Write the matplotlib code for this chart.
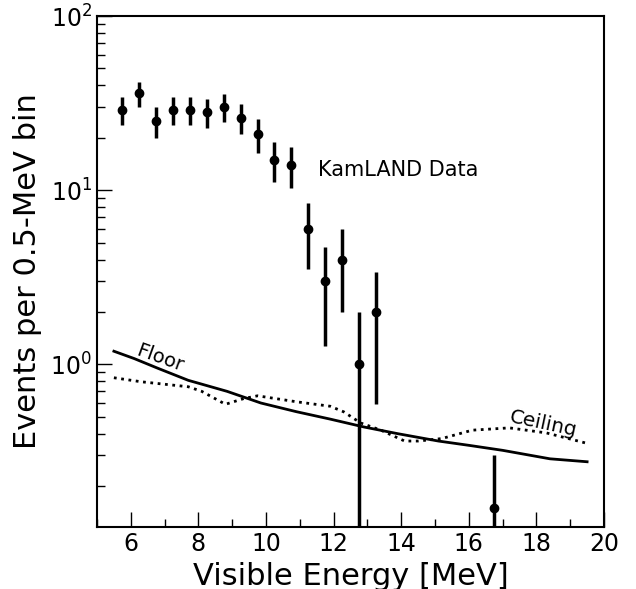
import numpy as np
import matplotlib
matplotlib.use("Agg")
import matplotlib.pyplot as plt

# KamLAND data points (bin centres, counts, errors)
e_data = [5.75, 6.25, 6.75, 7.25, 7.75, 8.25, 8.75, 9.25, 9.75, 10.25,
          10.75, 11.25, 11.75, 12.25, 12.75, 13.25, 16.75]
n_data = [29, 36, 25, 29, 29, 28, 30, 26, 21, 15, 14, 6, 3, 4, 1, 2, 0.15]
err_lo = [5.39, 6.0, 5.0, 5.39, 5.39, 5.29, 5.48, 5.1, 4.58, 3.87, 3.74,
          2.45, 1.73, 2.0, 1.0, 1.41, 0.15]
err_hi = err_lo

# Floor curve (solid)
e_floor = [5.5, 6.1, 6.8, 7.7, 8.85, 9.85, 10.9, 11.9, 12.9, 13.9, 15.1,
           16.0, 17.0, 18.4, 19.5]
y_floor = [1.19, 1.08, 0.95, 0.81, 0.70, 0.60, 0.535, 0.485, 0.437, 0.40,
           0.363, 0.343, 0.321, 0.287, 0.276]

# Ceiling curve (dotted)
e_ceil = [5.5, 6.3, 7.7, 8.1, 8.8, 9.35, 9.75, 10.9, 11.9, 12.3, 12.8,
          13.4, 14.1, 14.5, 15.2, 16.1, 17.2, 18.3, 19.45]
y_ceil = [0.838, 0.795, 0.744, 0.70, 0.59, 0.637, 0.66, 0.61, 0.575, 0.534,
          0.461, 0.419, 0.363, 0.363, 0.375, 0.419, 0.432, 0.404, 0.354]

fig = plt.figure(figsize=(6.36, 5.89), dpi=100)
ax = fig.add_axes([0.1525, 0.1058, 0.7972, 0.867])

ax.plot(e_floor, y_floor, color="black", lw=2)
ax.plot(e_ceil, y_ceil, color="black", lw=2, ls=":")
ax.errorbar(e_data, n_data, yerr=[err_lo, err_hi], fmt="o", color="black",
            ms=6, elinewidth=2.5, capsize=0)

ax.set_yscale("log")
ax.set_xlim(5, 20)
ax.set_ylim(0.117, 100)

ax.text(6.85, 1.09, "Floor", fontsize=14, rotation=-20, ha="center", va="center")
ax.text(18.2, 0.455, "Ceiling", fontsize=14.5, rotation=-12, ha="center", va="center")
ax.text(11.55, 13.0, "KamLAND Data", fontsize=15, ha="left", va="center")

ax.set_xlabel("Visible Energy [MeV]", fontsize=22, labelpad=5)
ax.set_ylabel("Events per 0.5-MeV bin", fontsize=22, labelpad=6)

ax.set_xticks([6, 8, 10, 12, 14, 16, 18, 20])
ax.set_xticks(np.arange(5, 20, 1), minor=True)
ax.tick_params(which="both", direction="in", top=False, right=False, labelsize=17)
ax.tick_params(which="major", length=11, width=1)
ax.tick_params(which="minor", length=6, width=1)
for s in ax.spines.values():
    s.set_linewidth(1.5)

fig.savefig("out.png", dpi=100)
